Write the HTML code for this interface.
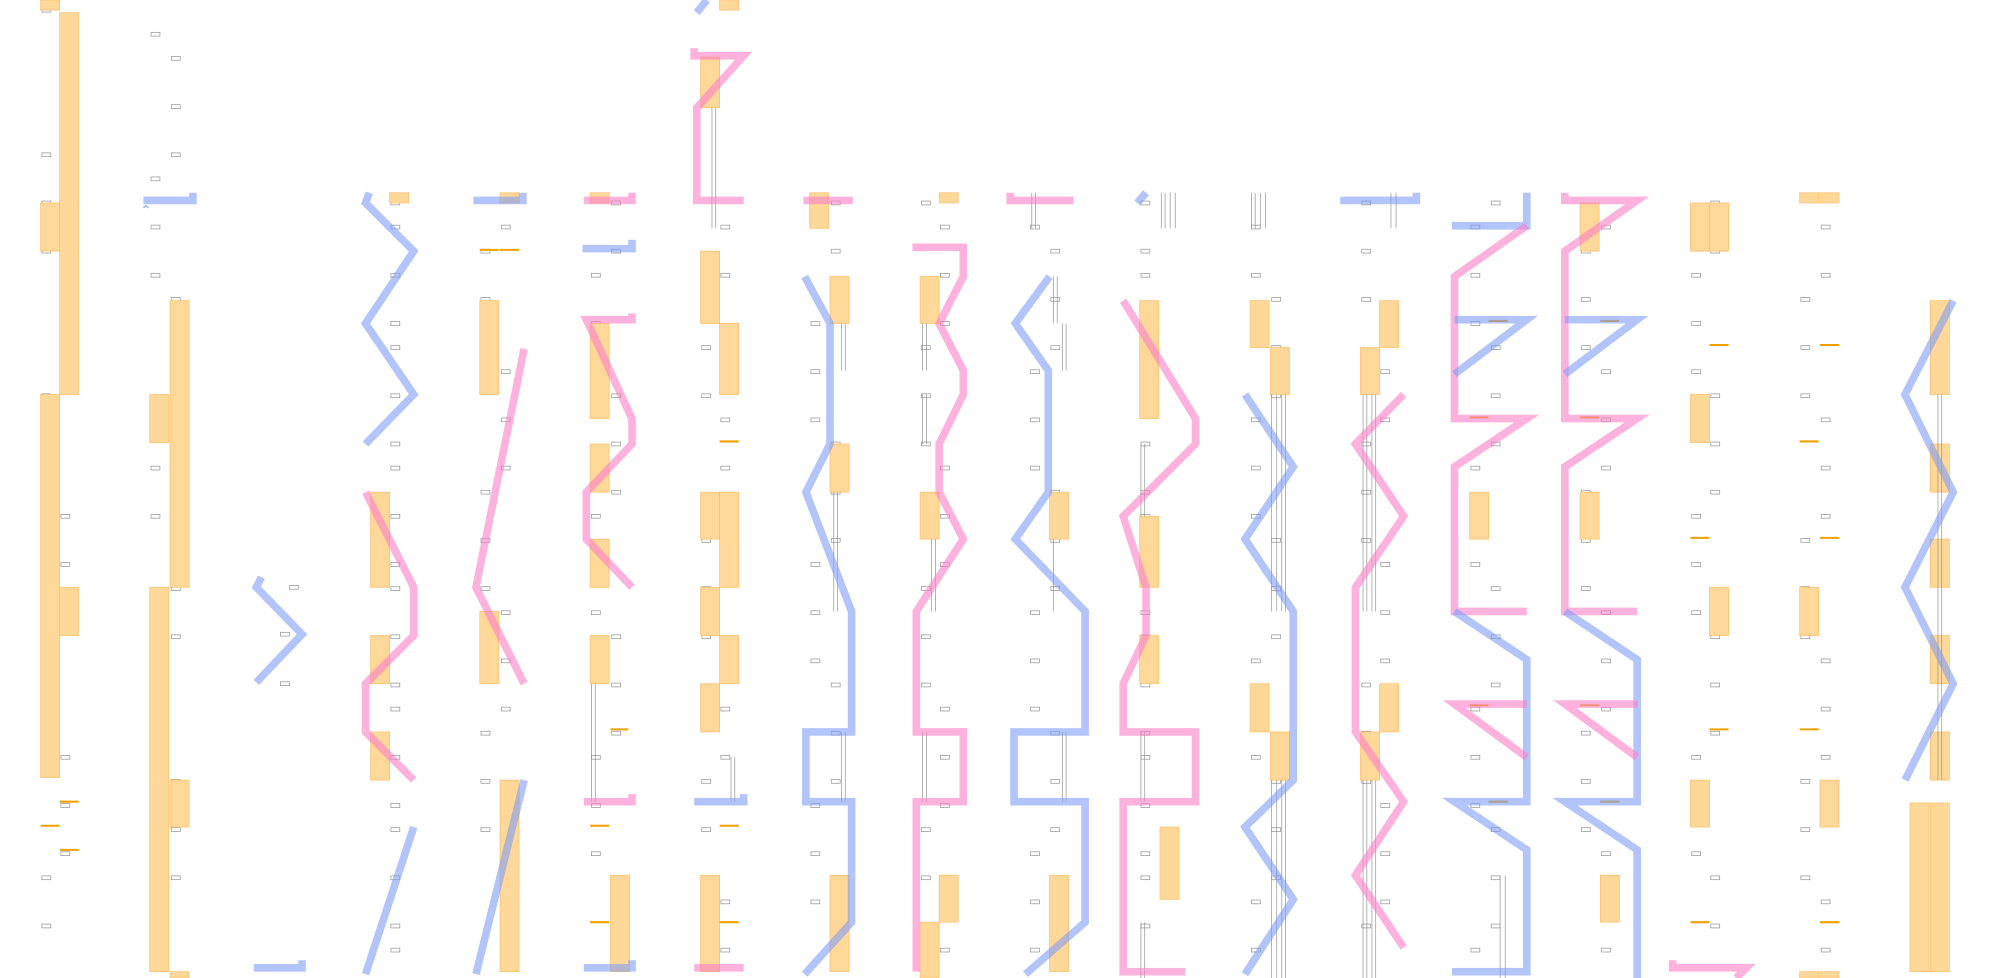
<!DOCTYPE html>
<html><head><meta charset="utf-8"><style>
html,body{margin:0;padding:0;background:#fff;width:1990px;height:978px;overflow:hidden}
svg{display:block}
.o{fill:#fed898;stroke:#fcc070;stroke-width:0.6}
.b{fill:none;stroke:#7f9cf5;stroke-opacity:.6;stroke-width:6;stroke-linejoin:miter}
.p{fill:none;stroke:#fb7fc8;stroke-opacity:.6;stroke-width:6;stroke-linejoin:miter}
.ol{stroke:#f0a000;stroke-width:1.6}
.t{fill:#fff;stroke:#999;stroke-width:.6}
.g{stroke:#888;stroke-width:.5}
.ab{fill:none;stroke:#7f9cf5;stroke-width:.8}
.ap{fill:none;stroke:#f06cc0;stroke-width:.8}
</style></head><body>
<svg id="s" width="1990" height="978" viewBox="0 0 1568 771" preserveAspectRatio="none" xmlns="http://www.w3.org/2000/svg">
<g id="ticks"></g>
<rect class="t" x="228" y="461.5" width="7" height="3"/>
<rect class="t" x="221" y="498.5" width="7" height="3"/>
<rect class="t" x="221" y="537.5" width="7" height="3"/>
<!-- col1 -->
<rect class="o" x="47" y="10" width="15" height="301"/>
<rect class="o" x="32" y="0" width="15" height="8"/>
<rect class="o" x="32" y="160" width="15" height="38"/>
<rect class="o" x="32" y="311" width="15" height="302"/>
<rect class="o" x="47" y="463" width="15" height="38"/>
<line class="ol" x1="47" y1="632" x2="62" y2="632"/><line class="ol" x1="32" y1="651" x2="47" y2="651"/><line class="ol" x1="47" y1="670" x2="62" y2="670"/>
<!-- col2 -->
<rect class="o" x="134" y="237" width="15" height="226"/>
<rect class="o" x="118" y="311" width="15" height="38"/>
<rect class="o" x="118" y="463" width="15" height="303"/>
<rect class="o" x="134" y="615" width="15" height="37"/>
<rect class="o" x="134" y="766" width="15" height="5"/>
<path class="b" d="M113 158 H152 V152"/><path class="ab" d="M113 164l2-2 2 2"/>
<!-- col3 -->
<path class="b" d="M206 455 L202 463 L238 500 L202 538"/>
<path class="b" d="M200 763 H238 V757"/>
<!-- col4 -->
<rect class="o" x="307" y="152" width="15" height="8"/>
<rect class="o" x="292" y="388" width="15" height="75"/>
<rect class="o" x="292" y="501" width="15" height="38"/>
<rect class="o" x="292" y="577" width="15" height="38"/>
<path class="b" d="M291 152 L288 160 L326 198 L288 255 L326 311 L288 350"/>
<path class="p" d="M288 388 L326 463 L326 501 L288 539 L288 577 L326 615"/>
<path class="b" d="M326 652 L288 768"/>
<!-- col5 -->
<rect class="o" x="394" y="152" width="15" height="8"/>
<rect class="o" x="378" y="237" width="15" height="74"/>
<rect class="o" x="378" y="482" width="15" height="57"/>
<rect class="o" x="394" y="615" width="15" height="151"/>
<line class="ol" x1="378" y1="197" x2="393" y2="197"/><line class="ol" x1="394" y1="197" x2="409" y2="197"/>
<path class="b" d="M373 158 H412 V152"/>
<path class="p" d="M413 275 L375 463 L413 539"/>
<path class="b" d="M413 615 L375 768"/>
<!-- col6 -->
<rect class="o" x="465" y="152" width="15" height="8"/>
<rect class="o" x="465" y="255" width="15" height="75"/>
<rect class="o" x="465" y="350" width="15" height="38"/>
<rect class="o" x="465" y="425" width="15" height="38"/>
<rect class="o" x="465" y="501" width="15" height="38"/>
<rect class="o" x="481" y="690" width="15" height="76"/>
<line class="ol" x1="481" y1="575" x2="495" y2="575"/><line class="ol" x1="465" y1="651" x2="480" y2="651"/><line class="ol" x1="465" y1="727" x2="480" y2="727"/>
<line class="g" x1="466" y1="539" x2="466" y2="632"/><line class="g" x1="469" y1="539" x2="469" y2="632"/>
<path class="p" d="M460 158 H498 V152"/>
<path class="b" d="M459 196 H498 V189"/>
<path class="p" d="M498 247 V252 H462 L498 330 L498 350 L462 388 L462 425 L498 463"/>
<path class="p" d="M460 632 H498 V626"/>
<path class="b" d="M460 763 H498 V757"/>
<!-- col7 -->
<rect class="o" x="567" y="0" width="15" height="8"/>
<rect class="o" x="552" y="45" width="15" height="40"/>
<rect class="o" x="552" y="198" width="15" height="57"/>
<rect class="o" x="567" y="255" width="15" height="56"/>
<rect class="o" x="552" y="388" width="15" height="37"/>
<rect class="o" x="567" y="388" width="15" height="75"/>
<rect class="o" x="552" y="463" width="15" height="38"/>
<rect class="o" x="567" y="501" width="15" height="38"/>
<rect class="o" x="552" y="539" width="15" height="38"/>
<rect class="o" x="552" y="690" width="15" height="76"/>
<line class="ol" x1="567" y1="348" x2="582" y2="348"/><line class="ol" x1="567" y1="651" x2="582" y2="651"/><line class="ol" x1="567" y1="727" x2="582" y2="727"/>
<line class="g" x1="561" y1="85" x2="561" y2="180"/><line class="g" x1="564" y1="85" x2="564" y2="180"/>
<line class="g" x1="576" y1="597" x2="576" y2="632"/><line class="g" x1="579" y1="597" x2="579" y2="632"/>
<path class="b" d="M549 10 L557 0"/>
<path class="p" d="M547 38 V44 H586 L549 85 L549 158 H586"/>
<path class="b" d="M547 632 H586 V626"/>
<path class="p" d="M547 763 H586"/>
<!-- col8 -->
<rect class="o" x="638" y="152" width="15" height="28"/>
<rect class="o" x="654" y="218" width="15" height="37"/>
<rect class="o" x="654" y="350" width="15" height="38"/>
<rect class="o" x="654" y="690" width="15" height="76"/>
<line class="g" x1="663" y1="255" x2="663" y2="292"/><line class="g" x1="666" y1="255" x2="666" y2="292"/>
<line class="g" x1="657" y1="388" x2="657" y2="482"/><line class="g" x1="660" y1="388" x2="660" y2="482"/>
<line class="g" x1="663" y1="577" x2="663" y2="632"/><line class="g" x1="666" y1="577" x2="666" y2="632"/>
<path class="p" d="M633 158 H672"/>
<path class="b" d="M634 218 L654 255 L654 350 L635 388 L671 482 L671 577 H635 V632 H671 V727 L634 768"/>
<!-- col9 -->
<rect class="o" x="740" y="152" width="15" height="8"/>
<rect class="o" x="725" y="218" width="15" height="37"/>
<rect class="o" x="725" y="388" width="15" height="37"/>
<rect class="o" x="740" y="690" width="15" height="37"/>
<rect class="o" x="725" y="727" width="15" height="44"/>
<line class="g" x1="727" y1="255" x2="727" y2="292"/><line class="g" x1="730" y1="255" x2="730" y2="292"/>
<line class="g" x1="727" y1="311" x2="727" y2="350"/><line class="g" x1="730" y1="311" x2="730" y2="350"/>
<line class="g" x1="734" y1="425" x2="734" y2="482"/><line class="g" x1="737" y1="425" x2="737" y2="482"/>
<line class="g" x1="727" y1="577" x2="727" y2="632"/><line class="g" x1="730" y1="577" x2="730" y2="632"/>
<path class="p" d="M719 195 H759 V218 L740 255 L759 292 L759 311 L740 350 L740 388 L759 425 L722 482 V577 H759 V632 H722 V766"/>
<!-- col10 -->
<rect class="o" x="827" y="388" width="15" height="37"/>
<rect class="o" x="827" y="690" width="15" height="76"/>
<line class="g" x1="813" y1="152" x2="813" y2="180"/><line class="g" x1="816" y1="152" x2="816" y2="180"/>
<line class="g" x1="830" y1="218" x2="830" y2="255"/><line class="g" x1="833" y1="218" x2="833" y2="255"/>
<line class="g" x1="837" y1="255" x2="837" y2="292"/><line class="g" x1="840" y1="255" x2="840" y2="292"/>
<line class="g" x1="830" y1="425" x2="830" y2="482"/><line class="g" x1="837" y1="577" x2="837" y2="632"/><line class="g" x1="840" y1="577" x2="840" y2="632"/>
<path class="p" d="M796 152 V158 H846"/>
<path class="b" d="M827 218 L800 255 L826 292 L826 388 L800 425 L855 482 V577 H799 V632 H855 V727 L808 768"/>
<!-- col11 -->
<rect class="o" x="898" y="237" width="15" height="93"/>
<rect class="o" x="898" y="407" width="15" height="56"/>
<rect class="o" x="898" y="501" width="15" height="38"/>
<rect class="o" x="914" y="652" width="15" height="57"/>
<g class="g"><line x1="915" y1="152" x2="915" y2="180"/><line x1="918" y1="152" x2="918" y2="180"/><line x1="922" y1="152" x2="922" y2="180"/><line x1="926" y1="152" x2="926" y2="180"/>
<line x1="899" y1="350" x2="899" y2="407"/><line x1="902" y1="350" x2="902" y2="407"/>
<line x1="899" y1="577" x2="899" y2="632"/><line x1="902" y1="577" x2="902" y2="632"/>
<line x1="899" y1="727" x2="899" y2="771"/><line x1="902" y1="727" x2="902" y2="771"/></g>
<path class="b" d="M903 152 L896 160"/>
<path class="p" d="M885 237 L942 330 L942 350 L885 407 L903 463 L903 501 L885 539 V577 H942 V632 H885 V766 H934"/>
<!-- col12 -->
<rect class="o" x="985" y="237" width="15" height="37"/>
<rect class="o" x="1001" y="274" width="15" height="37"/>
<rect class="o" x="985" y="539" width="15" height="38"/>
<rect class="o" x="1001" y="577" width="15" height="38"/>
<g class="g"><line x1="986" y1="152" x2="986" y2="180"/><line x1="989" y1="152" x2="989" y2="180"/><line x1="993" y1="152" x2="993" y2="180"/><line x1="997" y1="152" x2="997" y2="180"/>
<line x1="1002" y1="311" x2="1002" y2="482"/><line x1="1006" y1="311" x2="1006" y2="482"/><line x1="1010" y1="311" x2="1010" y2="482"/><line x1="1013" y1="311" x2="1013" y2="482"/>
<line x1="1002" y1="615" x2="1002" y2="771"/><line x1="1006" y1="615" x2="1006" y2="771"/><line x1="1010" y1="615" x2="1010" y2="771"/><line x1="1013" y1="615" x2="1013" y2="771"/></g>
<path class="b" d="M981 311 L1019 368 L981 425 L1019 482 L1019 615 L981 652 L1019 709 L981 768"/>
<!-- col13 -->
<rect class="o" x="1087" y="237" width="15" height="37"/>
<rect class="o" x="1072" y="274" width="15" height="37"/>
<rect class="o" x="1087" y="539" width="15" height="38"/>
<rect class="o" x="1072" y="577" width="15" height="38"/>
<g class="g"><line x1="1096" y1="152" x2="1096" y2="180"/><line x1="1100" y1="152" x2="1100" y2="180"/>
<line x1="1074" y1="311" x2="1074" y2="482"/><line x1="1077" y1="311" x2="1077" y2="482"/><line x1="1081" y1="311" x2="1081" y2="482"/><line x1="1084" y1="311" x2="1084" y2="482"/>
<line x1="1074" y1="615" x2="1074" y2="771"/><line x1="1077" y1="615" x2="1077" y2="771"/><line x1="1081" y1="615" x2="1081" y2="771"/><line x1="1084" y1="615" x2="1084" y2="771"/></g>
<path class="b" d="M1056 158 H1116 V152"/>
<path class="p" d="M1106 311 L1068 350 L1106 407 L1068 463 L1068 577 L1106 632 L1068 690 L1106 747"/>
<!-- col14 -->
<rect class="o" x="1158" y="388" width="15" height="37"/>
<line class="ol" x1="1173" y1="253" x2="1188" y2="253"/><line class="ol" x1="1158" y1="329" x2="1173" y2="329"/><line class="ol" x1="1158" y1="556" x2="1173" y2="556"/><line class="ol" x1="1173" y1="632" x2="1188" y2="632"/>
<line class="g" x1="1182" y1="690" x2="1182" y2="771"/><line class="g" x1="1186" y1="690" x2="1186" y2="771"/>
<path class="b" d="M1203 152 V178 H1144"/>
<path class="p" d="M1203 178 L1146 218 V330 H1203 L1146 368 V482 H1203"/>
<path class="b" d="M1146 252 H1203 L1146 295"/>
<path class="b" d="M1146 482 L1203 520 V632 H1146 L1203 670 V766 H1144"/>
<path class="p" d="M1203 555 H1146 L1203 597"/>
<!-- col15 -->
<rect class="o" x="1245" y="160" width="15" height="38"/>
<rect class="o" x="1245" y="388" width="15" height="37"/>
<rect class="o" x="1261" y="690" width="15" height="37"/>
<line class="ol" x1="1261" y1="253" x2="1276" y2="253"/><line class="ol" x1="1245" y1="329" x2="1260" y2="329"/><line class="ol" x1="1245" y1="556" x2="1260" y2="556"/><line class="ol" x1="1261" y1="632" x2="1276" y2="632"/>
<path class="p" d="M1233 152 V158 H1290 L1233 198 V330 H1290 L1233 368 V482 H1290"/>
<path class="b" d="M1233 252 H1290 L1233 295"/>
<path class="b" d="M1233 482 L1290 520 V632 H1233 L1290 670 V771"/>
<path class="p" d="M1290 555 H1233 L1290 597"/>
<!-- col16 -->
<rect class="o" x="1332" y="160" width="15" height="38"/>
<rect class="o" x="1347" y="160" width="15" height="38"/>
<rect class="o" x="1332" y="311" width="15" height="38"/>
<rect class="o" x="1347" y="463" width="15" height="38"/>
<rect class="o" x="1332" y="615" width="15" height="37"/>
<line class="ol" x1="1347" y1="272" x2="1362" y2="272"/><line class="ol" x1="1332" y1="424" x2="1347" y2="424"/><line class="ol" x1="1347" y1="575" x2="1362" y2="575"/><line class="ol" x1="1332" y1="727" x2="1347" y2="727"/>
<path class="p" d="M1318 757 V763 H1376 L1368 771"/>
<!-- col17 -->
<rect class="o" x="1418" y="152" width="15" height="8"/>
<rect class="o" x="1434" y="152" width="15" height="8"/>
<rect class="o" x="1418" y="463" width="15" height="38"/>
<rect class="o" x="1434" y="615" width="15" height="37"/>
<rect class="o" x="1418" y="766" width="15" height="5"/>
<rect class="o" x="1434" y="766" width="15" height="5"/>
<line class="ol" x1="1434" y1="272" x2="1449" y2="272"/><line class="ol" x1="1418" y1="348" x2="1433" y2="348"/><line class="ol" x1="1434" y1="424" x2="1449" y2="424"/><line class="ol" x1="1418" y1="575" x2="1433" y2="575"/><line class="ol" x1="1434" y1="727" x2="1449" y2="727"/>
<!-- col18 -->
<rect class="o" x="1521" y="237" width="15" height="74"/>
<rect class="o" x="1521" y="350" width="15" height="38"/>
<rect class="o" x="1521" y="425" width="15" height="38"/>
<rect class="o" x="1521" y="501" width="15" height="38"/>
<rect class="o" x="1521" y="577" width="15" height="38"/>
<rect class="o" x="1505" y="633" width="15" height="133"/>
<rect class="o" x="1521" y="633" width="15" height="133"/>
<line class="g" x1="1527" y1="311" x2="1527" y2="615"/><line class="g" x1="1530" y1="311" x2="1530" y2="615"/>
<path class="b" d="M1539 237 L1501 311 L1539 388 L1501 463 L1539 539 L1501 615"/>
</svg>
<script>
(function(){
var g=document.getElementById('ticks'),ns='http://www.w3.org/2000/svg';
var cols=[[32,47],[118,134],null,[307],[378,394],[465,481],[552,567],[638,654],[725,740],[811,827],[898],[985,1001],[1072,1087],[1158,1174],[1245,1261],[1332,1347],[1418,1434]];
cols.forEach(function(c,ci){
 if(!c)return;
 for(var r=0;r<40;r++){
  var y=8+r*19;
  if(y<150&&ci>1)continue;
  if(((r*7+ci*3)%5)>2)continue;
  var x=c[(r+ci)%c.length];
  var rc=document.createElementNS(ns,'rect');
  rc.setAttribute('class','t');rc.setAttribute('x',x+1);rc.setAttribute('y',y-1.5);
  rc.setAttribute('width',7);rc.setAttribute('height',3);g.appendChild(rc);
 }
});
})();
</script>
</body></html>
